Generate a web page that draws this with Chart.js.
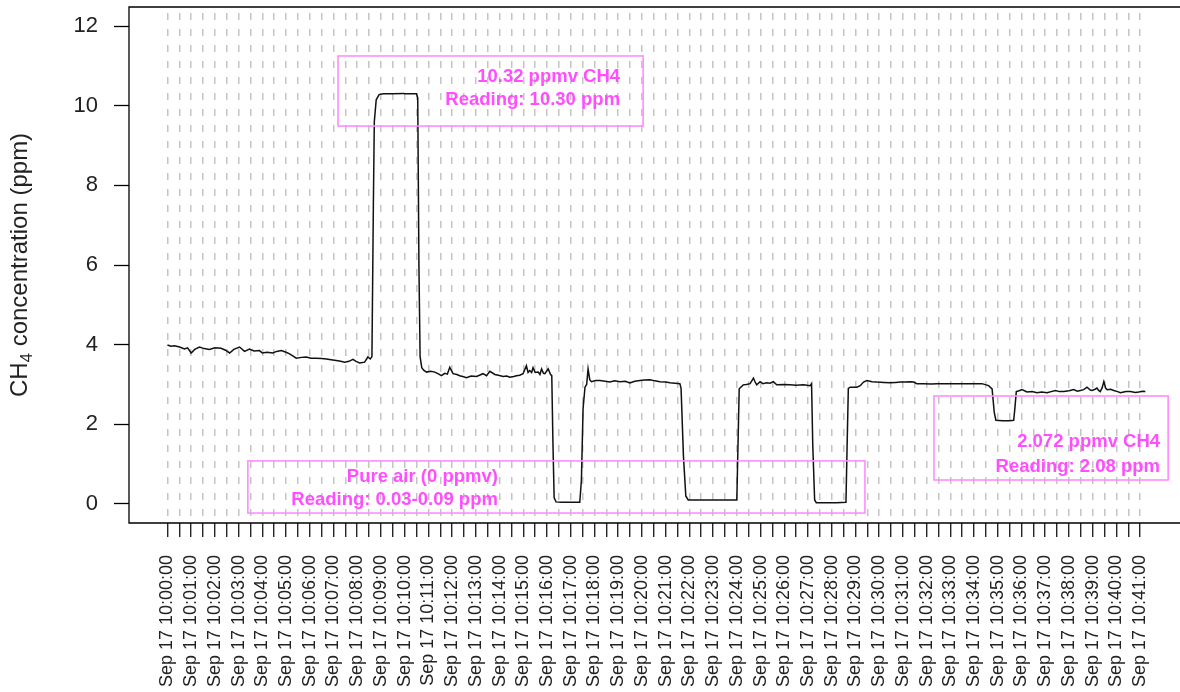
<!DOCTYPE html>
<html>
<head>
<meta charset="utf-8">
<script src="https://cdn.jsdelivr.net/npm/chart.js@4/dist/chart.umd.min.js"></script>
<style>
  html, body { margin: 0; padding: 0; background: #fff; overflow: hidden; }
  canvas { display: block; }
</style>
</head>
<body>
<canvas id="chart-ch4" width="1180" height="692"></canvas>
<script>
// CH4 sensor trace, minutes after Sep 17 10:00:00
const minutes = [
  0.0, 0.15, 0.3, 0.51, 0.72, 0.85, 1.0, 1.15, 1.35, 1.55, 1.77, 2.0, 2.26, 2.45, 2.62, 2.8,
  3.04, 3.25, 3.46, 3.65, 3.88, 4.0, 4.2, 4.44, 4.6, 4.8, 5.0, 5.15, 5.3, 5.43, 5.65, 5.85,
  6.05, 6.27, 6.5, 6.7, 6.9, 7.12, 7.3, 7.47, 7.65, 7.82, 7.95, 8.1, 8.31, 8.45, 8.55, 8.62,
  8.68, 8.72, 8.8, 8.92, 9.1, 9.5, 9.95, 10.0, 10.5, 10.55, 10.6, 10.65, 10.72, 10.8, 10.92,
  11.1, 11.27, 11.4, 11.55, 11.69, 11.8, 11.9, 12.04, 12.2, 12.32, 12.45, 12.6, 12.8, 13.03,
  13.15, 13.3, 13.45, 13.59, 13.8, 13.95, 14.15, 14.3, 14.43, 14.6, 14.71, 14.85, 14.99,
  15.13, 15.2, 15.27, 15.35, 15.41, 15.5, 15.63, 15.7, 15.77, 15.85, 15.91, 16.05, 16.15, 16.2,
  16.25, 16.3, 16.38, 16.6, 17.0, 17.38, 17.45, 17.52, 17.6, 17.67, 17.73, 17.8, 17.87,
  18.05, 18.23, 18.45, 18.65, 18.85, 19.07, 19.3, 19.49, 19.7, 19.92, 20.1, 20.34, 20.55,
  20.76, 21.0, 21.18, 21.4, 21.6, 21.65, 21.75, 21.85, 21.95, 22.5, 23.0, 23.5, 24.0,
  24.05, 24.1, 24.27, 24.4, 24.56, 24.7, 24.78, 24.84, 24.98, 25.1, 25.26, 25.4, 25.54,
  25.68, 26.0, 26.24, 26.5, 26.81, 27.09, 27.15, 27.2, 27.28, 27.35, 27.8, 28.2, 28.6,
  28.65, 28.7, 28.78, 29.06, 29.2, 29.34, 29.48, 29.7, 29.9, 30.2, 30.46, 30.7, 30.89,
  31.1, 31.31, 31.45, 31.59, 31.87, 32.2, 32.43, 32.7, 33.0, 33.3, 33.56, 33.8, 33.98,
  34.33, 34.61, 34.76, 34.85, 34.92, 35.2, 35.5, 35.67, 35.72, 35.78, 35.9, 36.02, 36.23,
  36.45, 36.65, 36.85, 37.08, 37.25, 37.43, 37.6, 37.78, 38.0, 38.2, 38.35, 38.48, 38.62,
  38.76, 38.9, 38.97, 39.1, 39.18, 39.25, 39.32, 39.4, 39.47, 39.55, 39.61, 39.75, 39.89,
  40.05, 40.17, 40.4, 40.59, 40.8, 40.94, 41.1, 41.22
];

const ppm = [
  3.99, 3.96, 3.97, 3.94, 3.89, 3.92, 3.79, 3.88, 3.94, 3.90, 3.88, 3.92, 3.91, 3.86, 3.79, 3.88,
  3.94, 3.83, 3.89, 3.84, 3.85, 3.79, 3.81, 3.79, 3.83, 3.85, 3.81, 3.77, 3.71, 3.66, 3.68, 3.69,
  3.66, 3.66, 3.65, 3.64, 3.62, 3.60, 3.58, 3.56, 3.58, 3.63, 3.58, 3.54, 3.56, 3.69, 3.64, 3.70,
  7.5, 9.6, 10.15, 10.28, 10.30, 10.30, 10.31, 10.30, 10.30, 10.2, 6.0, 3.7, 3.42, 3.36, 3.31,
  3.33, 3.31, 3.27, 3.22, 3.28, 3.26, 3.43, 3.27, 3.25, 3.22, 3.20, 3.17, 3.21, 3.20,
  3.23, 3.27, 3.22, 3.33, 3.25, 3.23, 3.20, 3.21, 3.18, 3.20, 3.22, 3.23, 3.27,
  3.47, 3.30, 3.35, 3.30, 3.42, 3.30, 3.31, 3.25, 3.39, 3.28, 3.27, 3.39, 3.25, 3.22,
  1.5, 0.15, 0.05, 0.04, 0.04, 0.04, 0.6, 2.4, 2.93, 3.0, 3.39, 3.12, 3.07,
  3.10, 3.10, 3.08, 3.06, 3.09, 3.07, 3.08, 3.04, 3.08, 3.10, 3.11, 3.12, 3.09,
  3.07, 3.06, 3.04, 3.03, 3.02, 2.9, 1.2, 0.2, 0.1, 0.1, 0.1, 0.1, 0.1,
  1.5, 2.89, 2.99, 3.0, 3.02, 3.16, 3.05, 2.99, 3.07, 3.02, 3.04, 3.03, 3.07,
  2.99, 3.0, 2.99, 2.98, 2.99, 2.97, 3.02, 1.5, 0.1, 0.03, 0.03, 0.03, 0.04,
  1.5, 2.9, 2.93, 2.93, 2.97, 3.06, 3.10, 3.07, 3.06, 3.05, 3.04, 3.05, 3.06,
  3.06, 3.07, 3.06, 3.02, 3.02, 3.01, 3.02, 3.02, 3.02, 3.02, 3.02, 3.02, 3.02,
  3.02, 2.97, 2.89, 2.3, 2.1, 2.09, 2.09, 2.1, 2.4, 2.82, 2.84, 2.87, 2.81,
  2.82, 2.79, 2.81, 2.79, 2.82, 2.85, 2.82, 2.82, 2.84, 2.87, 2.83, 2.85, 2.87,
  2.93, 2.86, 2.85, 2.88, 2.91, 2.85, 2.82, 2.92, 3.07, 2.90, 2.87, 2.88, 2.85,
  2.82, 2.79, 2.82, 2.82, 2.80, 2.81, 2.83, 2.82
];

const tickLabels = [
  "Sep 17 10:00:00", "Sep 17 10:01:00", "Sep 17 10:02:00", "Sep 17 10:03:00", "Sep 17 10:04:00",
  "Sep 17 10:05:00", "Sep 17 10:06:00", "Sep 17 10:07:00", "Sep 17 10:08:00", "Sep 17 10:09:00",
  "Sep 17 10:10:00", "Sep 17 10:11:00", "Sep 17 10:12:00", "Sep 17 10:13:00", "Sep 17 10:14:00",
  "Sep 17 10:15:00", "Sep 17 10:16:00", "Sep 17 10:17:00", "Sep 17 10:18:00", "Sep 17 10:19:00",
  "Sep 17 10:20:00", "Sep 17 10:21:00", "Sep 17 10:22:00", "Sep 17 10:23:00", "Sep 17 10:24:00",
  "Sep 17 10:25:00", "Sep 17 10:26:00", "Sep 17 10:27:00", "Sep 17 10:28:00", "Sep 17 10:29:00",
  "Sep 17 10:30:00", "Sep 17 10:31:00", "Sep 17 10:32:00", "Sep 17 10:33:00", "Sep 17 10:34:00",
  "Sep 17 10:35:00", "Sep 17 10:36:00", "Sep 17 10:37:00", "Sep 17 10:38:00", "Sep 17 10:39:00",
  "Sep 17 10:40:00", "Sep 17 10:41:00"
];

const yTicks = [0, 2, 4, 6, 8, 10, 12];

// annotation boxes: [x0, x1, yTop, yBottom] in minutes / ppm
const boxRanges = [
  [7.19, 20.05, 11.25, 9.49],
  [3.39, 29.4, 1.08, -0.23],
  [32.31, 42.18, 2.71, 0.6]
];
// text lines: [line1, line2], right edge x, baselines y1, y2
const boxTexts = [
  ["10.32 ppmv CH4", "Reading: 10.30 ppm"],
  ["Pure air (0 ppmv)", "Reading: 0.03-0.09 ppm"],
  ["2.072 ppmv CH4", "Reading: 2.08 ppm"]
];
const boxTextPos = [
  [19.08, 10.6, 10.02],
  [13.93, 0.55, -0.03],
  [41.84, 1.43, 0.80]
];

const FONT = "'Liberation Sans', Arial, Helvetica, sans-serif";

const frame = {
  id: "frame",
  afterDraw(chart) {
    const { ctx, chartArea: a } = chart;
    ctx.save();
    ctx.strokeStyle = "#000";
    ctx.lineWidth = 1.3;
    ctx.beginPath();
    ctx.moveTo(chart.width + 2, a.top);
    ctx.lineTo(a.left, a.top);
    ctx.lineTo(a.left, a.bottom);
    ctx.lineTo(chart.width + 2, a.bottom);
    ctx.stroke();

    // y title with subscript
    ctx.fillStyle = "#222";
    ctx.translate(20, (a.top + a.bottom) / 2);
    ctx.rotate(-Math.PI / 2);
    ctx.textBaseline = "middle";
    const big = "24px " + FONT, small = "17px " + FONT;
    ctx.font = big;
    const w1 = ctx.measureText("CH").width;
    const w3 = ctx.measureText(" concentration (ppm)").width;
    ctx.font = small;
    const w2 = ctx.measureText("4").width;
    let x = -(w1 + w2 + w3) / 2;
    ctx.font = big;
    ctx.fillText("CH", x, 0);
    x += w1;
    ctx.font = small;
    ctx.fillText("4", x, 7);
    x += w2;
    ctx.font = big;
    ctx.fillText(" concentration (ppm)", x, 0);
    ctx.restore();
  }
};

const annotations = {
  id: "annotations",
  afterDatasetsDraw(chart) {
    const { ctx } = chart;
    const xs = chart.scales.x, ys = chart.scales.y;
    ctx.save();
    boxRanges.forEach((b, i) => {
      const x0 = xs.getPixelForValue(b[0]), x1 = xs.getPixelForValue(b[1]);
      const y0 = ys.getPixelForValue(b[2]), y1 = ys.getPixelForValue(b[3]);
      ctx.strokeStyle = "#ff8cff";
      ctx.lineWidth = 1.6;
      ctx.strokeRect(x0, y0, x1 - x0, y1 - y0);

      const p = boxTextPos[i];
      ctx.fillStyle = "#ff4dff";
      ctx.font = "bold 18.5px " + FONT;
      ctx.textAlign = "right";
      ctx.textBaseline = "alphabetic";
      ctx.fillText(boxTexts[i][0], xs.getPixelForValue(p[0]), ys.getPixelForValue(p[1]));
      ctx.fillText(boxTexts[i][1], xs.getPixelForValue(p[0]), ys.getPixelForValue(p[2]));
    });
    ctx.restore();
  }
};

const points = minutes.map((m, i) => ({ x: m, y: ppm[i] }));

new Chart(document.getElementById("chart-ch4"), {
  type: "line",
  data: {
    datasets: [{
      data: points,
      borderColor: "#111",
      borderWidth: 1.5,
      pointRadius: 0,
      tension: 0,
      fill: false
    }]
  },
  options: {
    responsive: false,
    animation: false,
    events: [],
    layout: { padding: { top: 7, left: 0, right: 0, bottom: 0 } },
    plugins: { legend: { display: false }, tooltip: { enabled: false } },
    scales: {
      x: {
        type: "linear",
        min: -1.62,
        max: 42.68,
        afterFit(s) { s.height = 169; s.paddingLeft = 0; s.paddingRight = 0; },
        afterBuildTicks(s) {
          const t = [];
          tickLabels.forEach((_, i) => {
            t.push({ value: i });
            if (i < tickLabels.length - 1) t.push({ value: i + 0.5 });
          });
          s.ticks = t;
        },
        grid: {
          color: "#c4c4c4",
          lineWidth: 1.5,
          drawTicks: true,
          tickLength: 14,
          tickColor: "#000",
          tickWidth: 1.2,
          tickBorderDash: [],
          borderDash: [7, 9],
          borderDashOffset: 10
        },
        border: { display: false, dash: [7, 9], dashOffset: 10 },
        ticks: {
          autoSkip: false,
          minRotation: 90,
          maxRotation: 90,
          padding: 18,
          color: "#222",
          font: { family: FONT, size: 18 },
          callback(v) {
            return Number.isInteger(v) ? tickLabels[v] : "";
          }
        }
      },
      y: {
        min: -0.48,
        max: 12.48,
        afterFit(s) { s.width = 129; s.paddingTop = 0; s.paddingBottom = 0; },
        afterBuildTicks(s) { s.ticks = yTicks.map(v => ({ value: v })); },
        grid: {
          drawOnChartArea: false,
          drawTicks: true,
          tickLength: 15,
          tickColor: "#000",
          tickWidth: 1.3
        },
        border: { display: false },
        ticks: {
          padding: 16,
          color: "#222",
          font: { family: FONT, size: 22 }
        }
      }
    }
  },
  plugins: [annotations, frame]
});
</script>
</body>
</html>
